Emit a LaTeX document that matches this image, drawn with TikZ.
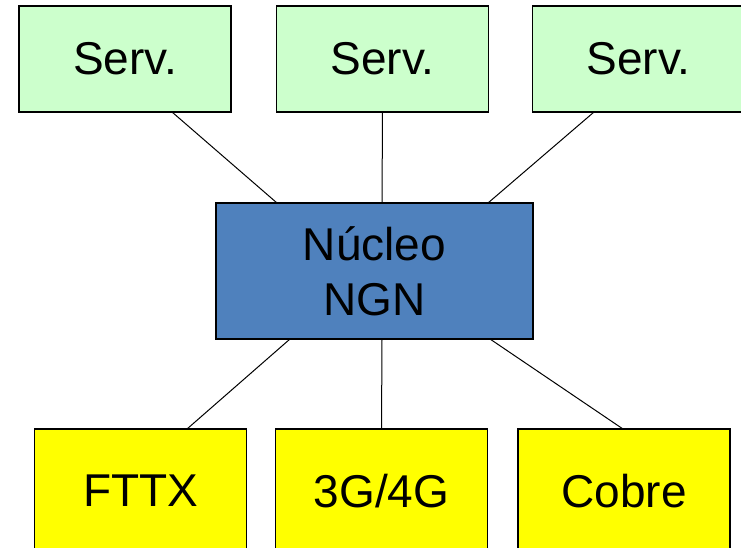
\documentclass[tikz,border=0pt]{standalone}
\usepackage{fontspec}
\setmainfont{Liberation Sans}
\definecolor{servgreen}{HTML}{CCFFCC}
\definecolor{coreblue}{HTML}{4F81BD}
\definecolor{accyellow}{HTML}{FFFF00}
\begin{document}
\begin{tikzpicture}[x=1pt,y=-1pt,
  box/.style={draw=black, line width=1.3pt, inner sep=0pt, outer sep=0pt,
    font=\fontsize{46}{55}\selectfont, align=center},
  servbox/.style={box, fill=servgreen, minimum width=212pt, minimum height=106pt},
  corebox/.style={box, fill=coreblue, minimum width=317pt, minimum height=136pt},
  accbox/.style={box, fill=accyellow, minimum width=212pt, minimum height=124pt},
  link/.style={draw=black, line width=1pt}]
\useasboundingbox (0,0) rectangle (741,547);
\fill[white] (0,0) rectangle (741,547);
\clip (0,0) rectangle (741,547);
\node[servbox] (s1) at (125,59) {Serv.};
\node[servbox] (s2) at (382.5,59) {Serv.};
\node[servbox] (s3) at (638.5,59) {Serv.};
\node[corebox] (core) at (374.5,271) {Núcleo\\NGN};
\node[accbox] (a1) at (140.5,491) {FTTX};
\node[accbox] (a2) at (381.5,491) {3G/4G};
\node[accbox] (a3) at (624,491) {Cobre};
\draw[link] ([xshift=47pt]s1.south) -- ([xshift=-97.5pt]core.north);
\draw[link] (s2.south) -- ([xshift=7.5pt]core.north);
\draw[link] ([xshift=-44.5pt]s3.south) -- ([xshift=113.5pt]core.north);
\draw[link] ([xshift=-84.5pt]core.south) -- ([xshift=46.5pt]a1.north);
\draw[link] ([xshift=7.5pt]core.south) -- (a2.north);
\draw[link] ([xshift=115.5pt]core.south) -- ([xshift=-1pt]a3.north);
\end{tikzpicture}
\end{document}
